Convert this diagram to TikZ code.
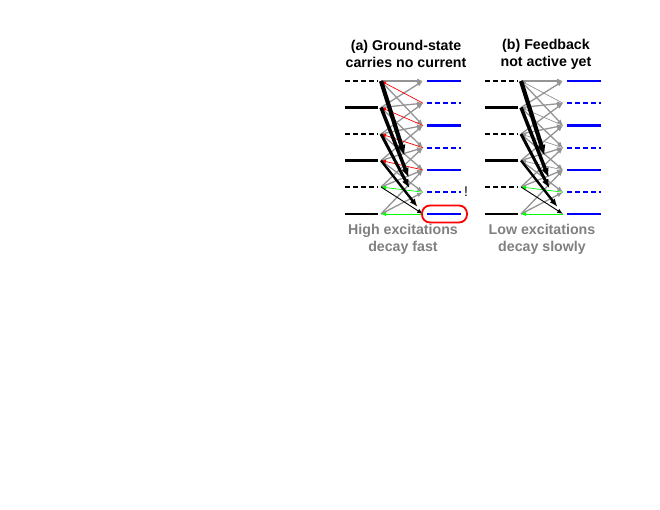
\documentclass[tikz,border=0pt]{standalone}
\usepackage{fontspec}
\setmainfont{Liberation Sans}
\usetikzlibrary{arrows.meta}

\begin{document}
\begin{tikzpicture}[x=1pt,y=-1pt]
  \tikzset{lvl/.style = {line width=2.3pt}}
  \tikzset{dsh/.style = {dash pattern=on 5pt off 3pt}}
  \tikzset{hop/.style = {-{Latex[length=6pt,width=5pt]}, black!42, line width=1.3pt}}
  \tikzset{back/.style = {-{Latex[length=5pt,width=4pt]}, line width=0.7pt}}
  \tikzset{decay/.style = {-{Latex[length=4.5pt 1.5,width=3.5pt 1.2]}, black}}
  \tikzset{caption/.style = {font=\fontsize{14.2}{17}\selectfont\bfseries, align=center, inner sep=0pt}}

  \useasboundingbox (0,0) rectangle (660,510);

  \foreach \p/\dx/\bk in {a/0/red, b/140/black!42} {
    % levels on the left
    \foreach \i/\y/\ls in {1/81/dsh, 2/107.5/solid, 3/134/dsh, 4/160.5/solid, 5/187/dsh, 6/214/solid} {
      \draw[lvl,\ls] (345+\dx,\y) -- (378+\dx,\y);
      \coordinate (\p L\i) at (381+\dx,\y);
    }
    % levels on the right
    \foreach \j/\y/\ls in {1/81/solid, 2/103.2/dsh, 3/125.5/solid, 4/147.7/dsh, 5/170/solid, 6/192.2/dsh, 7/214/solid} {
      \draw[lvl,blue,\ls] (427+\dx,\y) -- (461+\dx,\y);
      \coordinate (\p R\j) at (423+\dx,\y);
    }

    \foreach \from/\to in {1/1, 2/2, 3/3, 4/4, 5/5, 6/6, 2/1, 3/2, 4/3, 5/4, 6/5, 1/3, 2/4, 3/5, 4/6}
      \draw[hop] (\p L\from) -- (\p R\to);

    \foreach \from/\to in {2/1, 3/2, 4/3, 5/4}
      \draw[back,\bk] (\p R\from) -- (\p L\to);
    \foreach \from/\to in {6/5, 7/6}
      \draw[back,green] (\p R\from) -- (\p L\to);

    \foreach \i/\w/\s in {1/4.2/61, 2/3.5/39, 3/3/29, 4/2.4/9, 5/0.9/0}
      \draw[decay,line width=\w pt,shorten >=\s pt] (\p L\i) -- (\p R7);
  }

  \node[caption] (topa) at (406,54) {(a) Ground-state\\carries no current};
  \node[caption] (topb) at (546,54) {(b) Feedback\\not active yet};
  \node[caption,text=gray] (bota) at (403,239) {High excitations\\decay fast};
  \node[caption,text=gray] (botb) at (542,239) {Low excitations\\decay slowly};

  \node[font=\fontsize{14}{16}\selectfont] (mark) at (466,192) {!};
  \node[draw=red, line width=1.8pt, rounded corners=8pt, minimum width=45pt, minimum height=17pt] (ring) at (444.5,214) {};
\end{tikzpicture}
\end{document}
